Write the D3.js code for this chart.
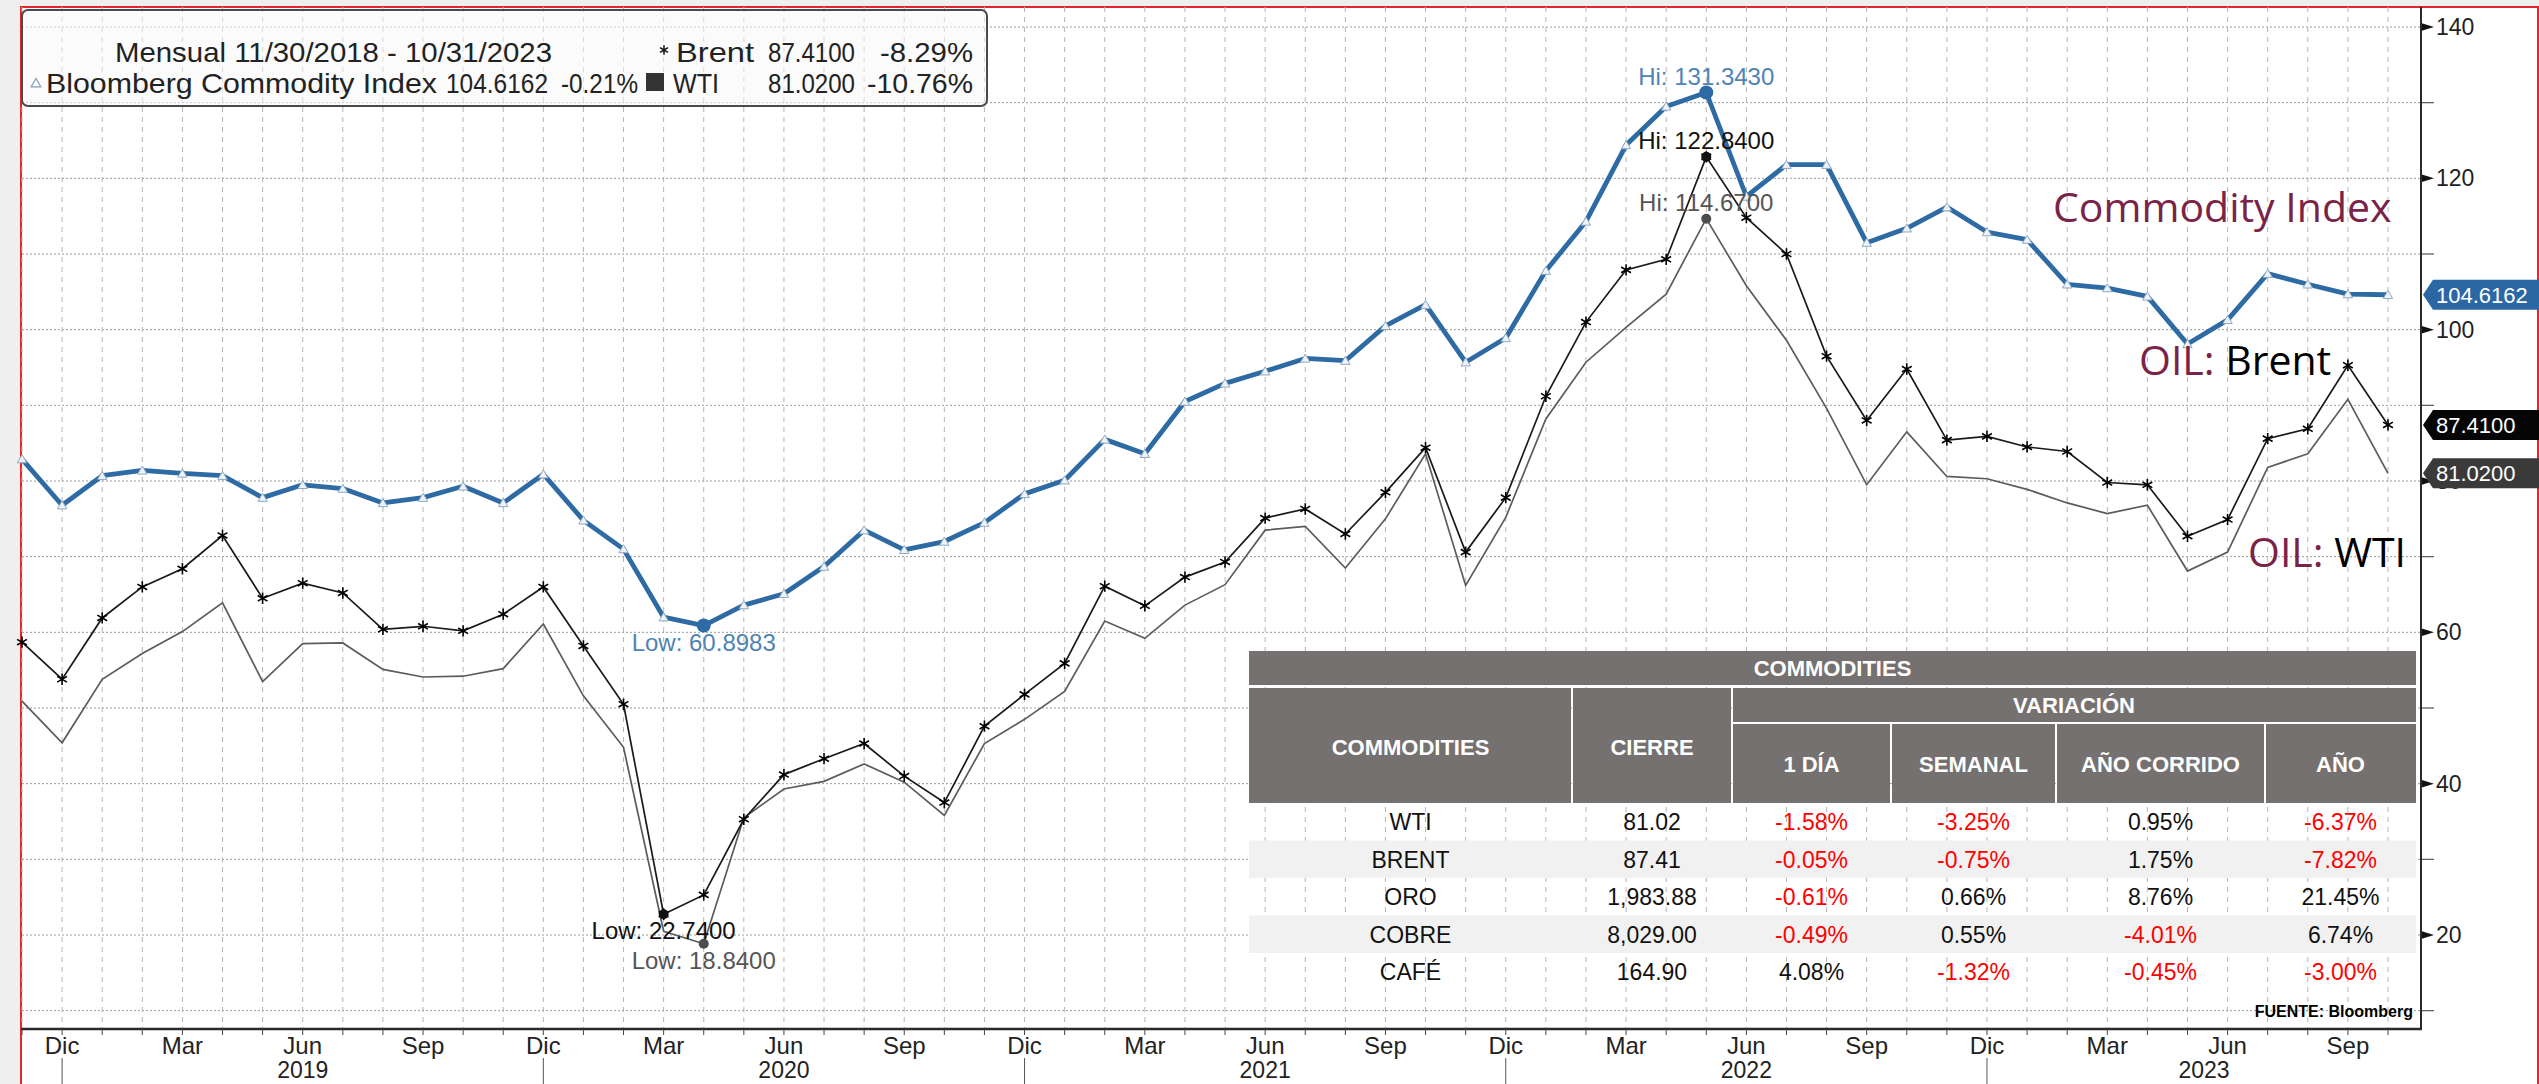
<!DOCTYPE html>
<html>
<head>
<meta charset="utf-8">
<script src="https://cdn.jsdelivr.net/npm/d3@7"></script>
<style>
    html, body { margin: 0; padding: 0; background: #efefef; }
    svg { display: block; }
    text { font-family: "Liberation Sans", Arial, sans-serif; }
</style>
</head>
<body>
<svg id="chart" width="2539" height="1084"></svg>
<script>
// monthly closes, Nov 2018 -> Oct 2023
const months = [
    "2018-11","2018-12","2019-01","2019-02","2019-03","2019-04","2019-05","2019-06","2019-07","2019-08",
    "2019-09","2019-10","2019-11","2019-12","2020-01","2020-02","2020-03","2020-04","2020-05","2020-06",
    "2020-07","2020-08","2020-09","2020-10","2020-11","2020-12","2021-01","2021-02","2021-03","2021-04",
    "2021-05","2021-06","2021-07","2021-08","2021-09","2021-10","2021-11","2021-12","2022-01","2022-02",
    "2022-03","2022-04","2022-05","2022-06","2022-07","2022-08","2022-09","2022-10","2022-11","2022-12",
    "2023-01","2023-02","2023-03","2023-04","2023-05","2023-06","2023-07","2023-08","2023-09","2023-10"
];
const bcom = [
    82.9, 76.8, 80.7, 81.4, 81.0, 80.7, 77.8, 79.5, 79.0, 77.1,
    77.8, 79.3, 77.1, 80.9, 74.8, 71.0, 62.0, 60.8983, 63.6, 65.1,
    68.7, 73.5, 70.9, 72.0, 74.5, 78.3, 80.1, 85.5, 83.6, 90.5,
    92.9, 94.5, 96.2, 95.9, 100.5, 103.3, 95.7, 98.9, 107.8, 114.3,
    124.4, 129.5, 131.343, 117.6, 121.8, 121.8, 111.5, 113.4, 116.2, 112.9,
    111.9, 106.0, 105.5, 104.4, 98.1, 101.3, 107.4, 106.0, 104.7, 104.6162
];
const brent = [
    58.7, 53.8, 61.9, 66.0, 68.4, 72.8, 64.5, 66.5, 65.2, 60.4,
    60.8, 60.2, 62.4, 66.0, 58.2, 50.5, 22.74, 25.3, 35.3, 41.2,
    43.3, 45.3, 41.0, 37.5, 47.6, 51.8, 55.9, 66.1, 63.5, 67.3,
    69.3, 75.1, 76.3, 73.0, 78.5, 84.4, 70.6, 77.8, 91.2, 101.0,
    107.9, 109.3, 122.84, 114.8, 110.0, 96.5, 88.0, 94.8, 85.4, 85.9,
    84.5, 83.9, 79.8, 79.5, 72.7, 74.9, 85.6, 86.9, 95.3, 87.41
];
const wti = [
    50.9, 45.4, 53.8, 57.2, 60.1, 63.9, 53.5, 58.5, 58.6, 55.1,
    54.1, 54.2, 55.2, 61.1, 51.6, 44.8, 20.5, 18.84, 35.5, 39.3,
    40.3, 42.6, 40.2, 35.8, 45.3, 48.5, 52.2, 61.5, 59.2, 63.6,
    66.3, 73.5, 74.0, 68.5, 75.0, 83.6, 66.2, 75.2, 88.2, 95.7,
    100.3, 104.7, 114.67, 105.8, 98.6, 89.6, 79.5, 86.5, 80.6, 80.3,
    78.9, 77.1, 75.7, 76.8, 68.1, 70.6, 81.8, 83.6, 90.8, 81.02
];

const yMajorTicks = [20, 40, 60, 80, 100, 120, 140];
const yMinorTicks = [10, 30, 50, 70, 90, 110, 130];
const quarterMonths = [3, 6, 9, 12];
const quarterLabels = ["Mar", "Jun", "Sep", "Dic"];
const yearLabels = ["2019", "2020", "2021", "2022", "2023"];

const legendPeriod = "Mensual 11/30/2018 - 10/31/2023";
const seriesNames = ["Bloomberg Commodity Index", "Brent", "WTI"];
const seriesChange = ["-0.21%", "-8.29%", "-10.76%"];

// table
const tableTitle = "COMMODITIES";
const tableHeaders = ["COMMODITIES", "CIERRE", "VARIACIÓN"];
const tableSubHeaders = ["1 DÍA", "SEMANAL", "AÑO CORRIDO", "AÑO"];
const tableNames = ["WTI", "BRENT", "ORO", "COBRE", "CAFÉ"];
const tableClose = ["81.02", "87.41", "1,983.88", "8,029.00", "164.90"];
const tableDay = ["-1.58%", "-0.05%", "-0.61%", "-0.49%", "4.08%"];
const tableWeek = ["-3.25%", "-0.75%", "0.66%", "0.55%", "-1.32%"];
const tableYtd = ["0.95%", "1.75%", "8.76%", "-4.01%", "-0.45%"];
const tableYear = ["-6.37%", "-7.82%", "21.45%", "6.74%", "-3.00%"];

const svg = d3.select('#chart');
const plot = { left: 22, top: 7, right: 2421, bottom: 1029 };

const parseMonth = d3.timeParse('%Y-%m');
const x = d3.scalePoint().domain(months).range([22, 2388]);
const y = d3.scaleLinear().domain([20, 140]).range([935, 27]);
const fmt4 = d3.format('.4f');

// white chart area with the red frame
svg.append('rect')
    .attr('x', 21).attr('y', 7)
    .attr('width', 2517).attr('height', 1090)
    .attr('fill', '#fff')
    .attr('stroke', '#e3262b')
    .attr('stroke-width', 2);

// grid
const grid = svg.append('g');
grid.selectAll('.hgrid')
    .data(d3.range(10, 141, 10))
    .enter().append('line')
    .attr('x1', plot.left).attr('x2', plot.right)
    .attr('y1', d => y(d)).attr('y2', d => y(d))
    .attr('stroke', '#9a9a9a')
    .attr('stroke-width', 1)
    .attr('stroke-dasharray', '2,2');

grid.selectAll('.vgrid')
    .data(months)
    .enter().append('line')
    .attr('x1', d => x(d)).attr('x2', d => x(d))
    .attr('y1', plot.top).attr('y2', plot.bottom)
    .attr('stroke', '#b5b5b5')
    .attr('stroke-width', 1)
    .attr('stroke-dasharray', '5,5');

// table (white rows let the grid show through)
const cols = [1249, 1572, 1732, 1891, 2056, 2265, 2416];
const headFill = '#767171';
const table = svg.append('g');

table.append('rect')
    .attr('x', cols[0]).attr('y', 651)
    .attr('width', cols[6] - cols[0]).attr('height', 34)
    .attr('fill', headFill);
table.append('text')
    .attr('x', (cols[0] + cols[6]) / 2).attr('y', 676)
    .attr('text-anchor', 'middle')
    .attr('fill', '#fff').attr('font-weight', 'bold').attr('font-size', 22)
    .text(tableTitle);

// first two header cells span both header rows
[0, 1].forEach(i => {
    table.append('rect')
        .attr('x', cols[i] + (i ? 1 : 0)).attr('y', 688)
        .attr('width', cols[i + 1] - cols[i] - (i ? 2 : 1)).attr('height', 115)
        .attr('fill', headFill);
    table.append('text')
        .attr('x', (cols[i] + cols[i + 1]) / 2).attr('y', 755)
        .attr('text-anchor', 'middle')
        .attr('fill', '#fff').attr('font-weight', 'bold').attr('font-size', 22)
        .text(tableHeaders[i]);
});

table.append('rect')
    .attr('x', cols[2] + 1).attr('y', 688)
    .attr('width', cols[6] - cols[2] - 1).attr('height', 34)
    .attr('fill', headFill);
table.append('text')
    .attr('x', (cols[2] + cols[6]) / 2).attr('y', 713)
    .attr('text-anchor', 'middle')
    .attr('fill', '#fff').attr('font-weight', 'bold').attr('font-size', 22)
    .text(tableHeaders[2]);

tableSubHeaders.forEach((h, j) => {
    const c = j + 2;
    table.append('rect')
        .attr('x', cols[c] + 1).attr('y', 724)
        .attr('width', cols[c + 1] - cols[c] - (c === 5 ? 1 : 2)).attr('height', 79)
        .attr('fill', headFill);
    table.append('text')
        .attr('x', (cols[c] + cols[c + 1]) / 2).attr('y', 772)
        .attr('text-anchor', 'middle')
        .attr('fill', '#fff').attr('font-weight', 'bold').attr('font-size', 22)
        .text(h);
});

const rowH = 37.5;
const rows = tableNames.map((n, i) => [n, tableClose[i], tableDay[i], tableWeek[i], tableYtd[i], tableYear[i]]);
rows.forEach((r, i) => {
    const top = 803 + i * rowH;
    if (i % 2 === 1) {
        table.append('rect')
            .attr('x', cols[0]).attr('y', top)
            .attr('width', cols[6] - cols[0]).attr('height', rowH)
            .attr('fill', '#f1f1f1');
    }
    r.forEach((v, c) => {
        table.append('text')
            .attr('x', (cols[c] + cols[c + 1]) / 2).attr('y', top + 27)
            .attr('text-anchor', 'middle')
            .attr('font-size', 23)
            .attr('fill', c >= 2 && v.startsWith('-') ? '#ff0000' : '#111')
            .text(v);
    });
});

table.append('text')
    .attr('x', 2413).attr('y', 1017)
    .attr('text-anchor', 'end')
    .attr('font-size', 16).attr('font-weight', 'bold')
    .attr('fill', '#000')
    .text('FUENTE: Bloomberg');

// legend box
const legend = svg.append('g');
legend.append('rect')
    .attr('x', 22).attr('y', 10)
    .attr('width', 965).attr('height', 96)
    .attr('rx', 6)
    .attr('fill', '#f7f7f7').attr('fill-opacity', 0.55)
    .attr('stroke', '#4a4a4a').attr('stroke-width', 2);

// each piece gets its own slot so the columns line up like the terminal legend
const lg = (tx, ty, len, str) => legend.append('text')
    .attr('x', tx).attr('y', ty)
    .attr('textLength', len)
    .attr('lengthAdjust', 'spacingAndGlyphs')
    .attr('font-size', 28).attr('fill', '#222')
    .text(str);

lg(115, 62, 437, legendPeriod);
lg(46, 93, 391, seriesNames[0]);
lg(446, 93, 102, fmt4(bcom[bcom.length - 1]));
lg(561, 93, 77, seriesChange[0]);
lg(676, 62, 78, seriesNames[1]);
lg(768, 62, 87, fmt4(brent[brent.length - 1]));
lg(880, 62, 93, seriesChange[1]);
lg(673, 93, 46, seriesNames[2]);
lg(768, 93, 87, fmt4(wti[wti.length - 1]));
lg(867, 93, 106, seriesChange[2]);

legend.append('path')
    .attr('d', d3.symbol(d3.symbolTriangle, 40)())
    .attr('transform', 'translate(36,84)')
    .attr('fill', '#fff').attr('stroke', '#7f9bb8').attr('stroke-width', 1.2);
legend.append('path')
    .attr('d', d3.symbol(d3.symbolAsterisk, 60)())
    .attr('transform', 'translate(664,50)')
    .attr('fill', 'none').attr('stroke', '#111').attr('stroke-width', 1.5);
legend.append('rect')
    .attr('x', 646).attr('y', 73).attr('width', 18).attr('height', 18)
    .attr('fill', '#333');

// series lines
const line = d3.line()
    .x((d, i) => x(months[i]))
    .y(d => y(d));

svg.append('path')
    .datum(wti)
    .attr('d', line)
    .attr('fill', 'none')
    .attr('stroke', '#5c5c5c')
    .attr('stroke-width', 1.7);

svg.append('path')
    .datum(brent)
    .attr('d', line)
    .attr('fill', 'none')
    .attr('stroke', '#1a1a1a')
    .attr('stroke-width', 1.7);

svg.selectAll('.brentMark')
    .data(brent)
    .enter().append('path')
    .attr('d', d3.symbol(d3.symbolAsterisk, 90)())
    .attr('transform', (d, i) => `translate(${x(months[i])},${y(d)})`)
    .attr('fill', 'none')
    .attr('stroke', '#000')
    .attr('stroke-width', 1.6);

svg.append('path')
    .datum(bcom)
    .attr('d', line)
    .attr('fill', 'none')
    .attr('stroke', '#2e6aa3')
    .attr('stroke-width', 4.8)
    .attr('stroke-linejoin', 'round');

svg.selectAll('.bcomMark')
    .data(bcom)
    .enter().append('path')
    .attr('d', d3.symbol(d3.symbolTriangle, 38)())
    .attr('transform', (d, i) => `translate(${x(months[i])},${y(d) + 1})`)
    .attr('fill', '#eef3f8')
    .attr('stroke', '#8fa9c4')
    .attr('stroke-width', 1);

// high / low markers
const extremes = [
    { data: bcom, color: '#2e6aa3', text: '#4f83b6', r: 7 },
    { data: brent, color: '#111', text: '#111', r: 5 },
    { data: wti, color: '#4d4d4d', text: '#555', r: 5 }
];
extremes.forEach(s => {
    const hi = d3.maxIndex(s.data);
    const lo = d3.minIndex(s.data);
    [[hi, 'Hi: ', -8], [lo, 'Low: ', 25]].forEach(([idx, label, dy]) => {
        const px = x(months[idx]);
        const py = y(s.data[idx]);
        svg.append('circle')
            .attr('cx', px).attr('cy', py).attr('r', s.r)
            .attr('fill', s.color);
        svg.append('text')
            .attr('x', px).attr('y', py + dy)
            .attr('text-anchor', 'middle')
            .attr('font-size', 24)
            .attr('fill', s.text)
            .text(label + fmt4(s.data[idx]));
    });
});

// big series names
const bigLabel = (tx, ty, parts) => {
    const t = svg.append('text')
        .attr('x', tx).attr('y', ty)
        .style('font-family', '"Open Sans", sans-serif')
        .attr('font-size', 41);
    parts.forEach(p => t.append('tspan').attr('fill', p[1]).text(p[0]));
};
bigLabel(2053, 222, [['Commodity Index', '#7a2349']]);
bigLabel(2139, 375, [['OIL: ', '#7a2349'], ['Brent', '#000']]);
bigLabel(2248, 567, [['OIL: ', '#7a2349'], ['WTI', '#000']]);

// right axis
const axisR = svg.append('g');
axisR.selectAll('.minor')
    .data(yMinorTicks)
    .enter().append('line')
    .attr('x1', plot.right).attr('x2', plot.right + 13)
    .attr('y1', d => y(d)).attr('y2', d => y(d))
    .attr('stroke', '#555').attr('stroke-width', 1.2);
axisR.selectAll('.major')
    .data(yMajorTicks)
    .enter().append('path')
    .attr('d', d => `M${plot.right},${y(d) - 4}L${plot.right + 13},${y(d)}L${plot.right},${y(d) + 4}Z`)
    .attr('fill', '#111');
axisR.selectAll('.lbl')
    .data(yMajorTicks)
    .enter().append('text')
    .attr('x', plot.right + 15).attr('y', d => y(d) + 8)
    .attr('font-size', 23).attr('fill', '#222')
    .text(d => d);

// last value tags
const tags = [
    { v: bcom[bcom.length - 1], fill: '#2b67a3' },
    { v: brent[brent.length - 1], fill: '#050505' },
    { v: wti[wti.length - 1], fill: '#3a3a3a' }
];
tags.forEach(t => {
    const cy = y(t.v);
    svg.append('path')
        .attr('d', `M${plot.right + 2},${cy}L${plot.right + 12},${cy - 15}L2539,${cy - 15}L2539,${cy + 15}L${plot.right + 12},${cy + 15}Z`)
        .attr('fill', t.fill);
    svg.append('text')
        .attr('x', plot.right + 15).attr('y', cy + 8)
        .attr('font-size', 22).attr('fill', '#fff')
        .text(fmt4(t.v));
});

// frame lines
svg.append('line')
    .attr('x1', plot.right).attr('x2', plot.right)
    .attr('y1', plot.top).attr('y2', plot.bottom)
    .attr('stroke', '#2a2a2a').attr('stroke-width', 2);
svg.append('line')
    .attr('x1', plot.left - 1).attr('x2', plot.right + 1)
    .attr('y1', plot.bottom).attr('y2', plot.bottom)
    .attr('stroke', '#2a2a2a').attr('stroke-width', 2.5);

// bottom axis: a tick per month, labels each quarter, years below
const axisB = svg.append('g');
axisB.selectAll('.tick')
    .data(months)
    .enter().append('line')
    .attr('x1', d => x(d)).attr('x2', d => x(d))
    .attr('y1', plot.bottom).attr('y2', plot.bottom + 6)
    .attr('stroke', '#444');
axisB.selectAll('.mlbl')
    .data(months.filter(m => quarterMonths.includes(parseMonth(m).getMonth() + 1)))
    .enter().append('text')
    .attr('x', d => x(d)).attr('y', 1054)
    .attr('text-anchor', 'middle')
    .attr('font-size', 24).attr('fill', '#222')
    .text(d => quarterLabels[quarterMonths.indexOf(parseMonth(d).getMonth() + 1)]);

const decembers = months.filter(m => parseMonth(m).getMonth() === 11);
axisB.selectAll('.ysep')
    .data(decembers)
    .enter().append('line')
    .attr('x1', d => x(d)).attr('x2', d => x(d))
    .attr('y1', 1058).attr('y2', 1084)
    .attr('stroke', '#555');
axisB.selectAll('.ylbl')
    .data(yearLabels)
    .enter().append('text')
    .attr('x', (d, i) => {
        const a = x(decembers[i]);
        const b = i + 1 < decembers.length ? x(decembers[i + 1]) : plot.right;
        return (a + b) / 2;
    })
    .attr('y', 1078)
    .attr('text-anchor', 'middle')
    .attr('font-size', 23).attr('fill', '#222')
    .text(d => d);
</script>
</body>
</html>
